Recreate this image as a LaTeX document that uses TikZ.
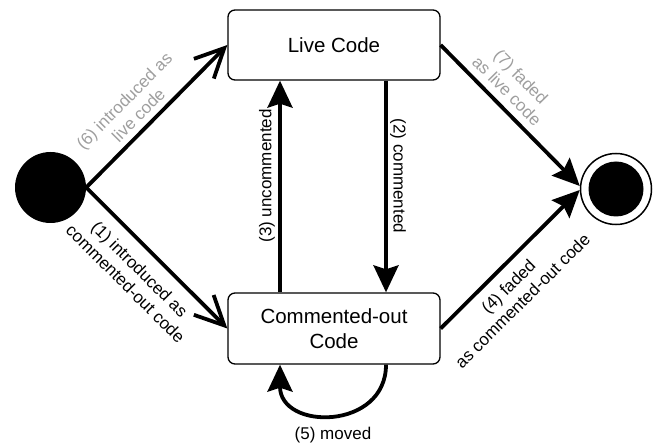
\documentclass[tikz,border=0pt]{standalone}
\usepackage{fontspec}
\setmainfont{Liberation Sans}
\usetikzlibrary{arrows.meta,calc}
\definecolor{lblgray}{RGB}{158,158,158}
\tikzset{
  statebox/.style={draw=black, line width=1.3pt, rounded corners=7pt, minimum width=212pt, minimum height=70pt, align=center, inner sep=0pt, font=\fontsize{20.5}{25}\selectfont},
  flow/.style={line width=3.8pt, -{Stealth[length=27pt,width=25pt,inset=4pt]}},
  openflow/.style={line width=3.8pt, line join=miter, -{Straight Barb[length=29pt,width=28pt,line width=3.8pt]}},
  lbl/.style={font=\fontsize{17}{20}\selectfont, align=center, inner sep=0pt, sloped, anchor=center},
  glbl/.style={lbl, text=lblgray}
}
\begin{document}
\begin{tikzpicture}[x=1pt,y=-1pt]
\useasboundingbox (0,0) rectangle (655,446);
\node[circle, fill=black, minimum size=71pt, inner sep=0pt] (start) at (50.5,187.5) {};
\node[statebox] (live) at (334,45) {Live Code};
\node[statebox, minimum height=71pt] (com) at (334,328.5) {Commented-out\\Code};
\node[circle, draw=black, line width=1.5pt, minimum size=71pt, inner sep=0pt] (endc) at (616,189) {};
\node[circle, fill=black, minimum size=55pt, inner sep=0pt] (endin) at (endc.center) {};

\draw[openflow] (start.east) -- (live.west)
  node[glbl, pos=0.44, yshift=24pt] {(6) introduced as\\live code};
\draw[openflow] (start.east) -- (com.west)
  node[lbl, pos=0.48, yshift=-30pt] {(1) introduced as\\commented-out code};
\draw[flow] ($(com.north)+(-54,0)$) -- ($(live.south)+(-54,0)$)
  node[lbl, pos=0.55, yshift=13pt] {(3) uncommented};
\draw[flow] ($(live.south)+(52,0)$) -- ($(com.north)+(52,0)$)
  node[lbl, pos=0.45, yshift=12pt] {(2) commented};
\draw[flow] (live.east) -- ($(endc.west)+(0,-3)$)
  node[glbl, pos=0.40, yshift=25pt] {(7) faded\\as live code};
\draw[flow] (com.east) -- ($(endc.west)+(0,1)$)
  node[lbl, pos=0.395, yshift=-28pt] {(4) faded\\as commented-out code};
\draw[flow] ($(com.south)+(52,0)$) .. controls ($(com.south)+(52,66)$) and ($(com.south)+(-54,66)$) .. ($(com.south)+(-54,0)$)
  node[lbl, sloped=false, pos=0.5, yshift=-21pt] {(5) moved};
\end{tikzpicture}
\end{document}
